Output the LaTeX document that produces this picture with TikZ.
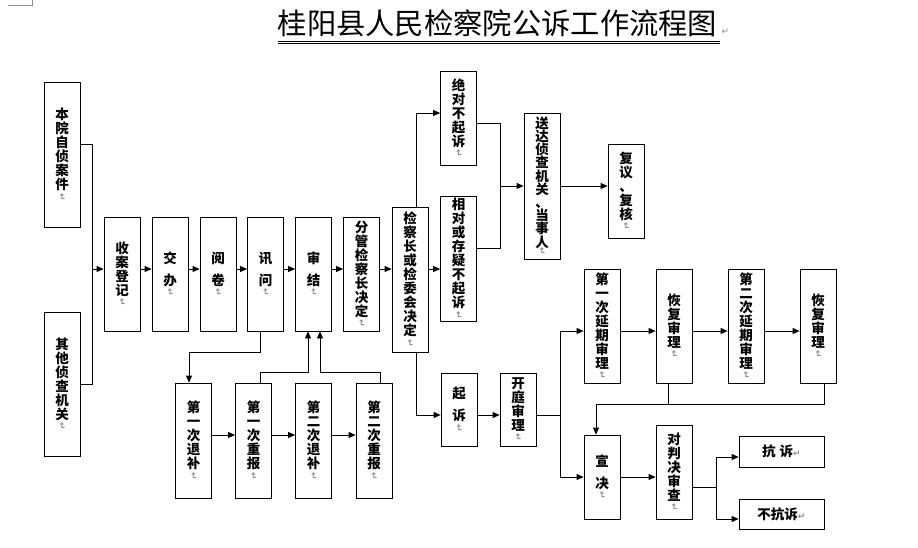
\documentclass[tikz,border=0pt]{standalone}
\usepackage{fontspec}
\usepackage{graphicx}
\usepackage{tikz}
\usetikzlibrary{arrows.meta,calc}
\newfontfamily\cjk{Noto Sans CJK SC}
\newfontfamily\symfont{DejaVu Sans}
\definecolor{MarkGray}{HTML}{8c8c8c}
\newcommand\pmark{{\symfont\fontsize{9}{9}\selectfont\textcolor{MarkGray}{\rotatebox[origin=c]{-90}{↵}}}}
\newcommand\hmark{{\symfont\fontsize{9}{9}\selectfont\textcolor{MarkGray}{↵}}}

\begin{document}
\begin{tikzpicture}[x=1pt,y=-1pt,
    stage/.style={draw,line width=0.8pt,inner sep=0pt,minimum width=36pt,align=center,
      font=\cjk\bfseries\fontsize{13.5}{14}\selectfont},
    link/.style={line width=0.8pt},
    flow/.style={link,-{Triangle[length=7pt,width=6pt]}}]
    \useasboundingbox (0,0) rectangle (918,548);
    \draw[MarkGray,line width=0.6pt] (8,5) -- (32,5) -- (32,0);

    % title
    \node[font=\cjk\fontsize{29.3}{30}\selectfont,inner sep=0pt,anchor=base] (title) at (497.5,35) {桂阳县人民检察院公诉工作流程图};
    \node[inner sep=0pt,anchor=base west] (tmark) at ([xshift=4pt]title.base east) {\hmark};
    \draw[link] ([yshift=-6pt]title.base west) -- ([xshift=3pt,yshift=-6pt]title.base east);
    \draw[link] ([yshift=-8.5pt]title.base west) -- ([xshift=3pt,yshift=-8.5pt]title.base east);

    % sources and main row
    \node[stage,minimum height=145pt] (benyuan) at (62,154.5) {本\\院\\自\\侦\\案\\件\\[-4pt]\pmark};
    \node[stage,minimum height=144pt] (qita) at (62,384) {其\\他\\侦\\查\\机\\关\\[-4pt]\pmark};
    \node[stage,minimum height=114pt] (shouan) at (122,274) {收\\案\\登\\记\\[-4pt]\pmark};
    \node[stage,minimum height=114pt] (jiaoban) at (170,274) {交\\[8pt]办\\[-4pt]\pmark};
    \node[stage,minimum height=114pt] (yuejuan) at (218,274) {阅\\[8pt]卷\\[-4pt]\pmark};
    \node[stage,minimum height=114pt] (xunwen) at (265.5,274) {讯\\[8pt]问\\[-4pt]\pmark};
    \node[stage,minimum height=114pt] (shenjie) at (313.5,274) {审\\[8pt]结\\[-4pt]\pmark};
    \node[stage,minimum height=114pt] (fenguan) at (361.5,274) {分\\管\\检\\察\\长\\决\\定\\[-4pt]\pmark};
    \node[stage,minimum height=145pt] (jcz) at (410,279.5) {检\\察\\长\\或\\检\\委\\会\\决\\定\\[-4pt]\pmark};

    % no prosecution
    \node[stage,minimum height=94pt] (juedui) at (458.5,118) {绝\\对\\不\\起\\诉\\[-4pt]\pmark};
    \node[stage,minimum height=125pt] (xiangdui) at (458.5,258.5) {相\\对\\或\\存\\疑\\不\\起\\诉\\[-4pt]\pmark};
    \node[stage,minimum height=146pt,font=\cjk\bfseries\fontsize{13.5}{13.2}\selectfont] (songda) at (542,186) {送\\达\\侦\\查\\机\\关\\、\\当\\事\\人\\[-6pt]\pmark};
    \node[stage,minimum height=94pt] (fuyi) at (626,191) {复\\议\\、\\复\\核\\[-4pt]\pmark};

    % supplementary investigation
    \node[stage,minimum height=115pt] (tuibu1) at (193.5,440.5) {第\\一\\次\\退\\补\\[-4pt]\pmark};
    \node[stage,minimum height=115pt] (chongbao1) at (253.5,440.5) {第\\一\\次\\重\\报\\[-4pt]\pmark};
    \node[stage,minimum height=115pt] (tuibu2) at (313.5,440.5) {第\\二\\次\\退\\补\\[-4pt]\pmark};
    \node[stage,minimum height=115pt] (chongbao2) at (374,440.5) {第\\二\\次\\重\\报\\[-4pt]\pmark};

    % prosecution and trial
    \node[stage,minimum height=73pt] (qisu) at (459,409.5) {起\\[8pt]诉\\[-4pt]\pmark};
    \node[stage,minimum height=73pt] (kaiting) at (518,409.5) {开\\庭\\审\\理\\[-4pt]\pmark};
    \node[stage,minimum height=114pt] (yanqi1) at (602,326) {第\\一\\次\\延\\期\\审\\理\\[-4pt]\pmark};
    \node[stage,minimum height=114pt] (huifu1) at (674,326) {恢\\复\\审\\理\\[-4pt]\pmark};
    \node[stage,minimum height=114pt] (yanqi2) at (746,326) {第\\二\\次\\延\\期\\审\\理\\[-4pt]\pmark};
    \node[stage,minimum height=114pt] (huifu2) at (818,326) {恢\\复\\审\\理\\[-4pt]\pmark};
    \node[stage,minimum height=84pt] (xuanjue) at (602,477) {宣\\[8pt]决\\[-4pt]\pmark};
    \node[stage,minimum height=94pt] (duipan) at (674,472) {对\\判\\决\\审\\查\\[-4pt]\pmark};
    \node[stage,minimum width=85pt,minimum height=31pt] (kangsu) at (781.5,451.5) {抗\hspace{4pt}诉\hmark};
    \node[stage,minimum width=85pt,minimum height=30pt] (bukang) at (781.5,514) {不抗诉\hmark};

    % connectors
    \coordinate (join) at (92,269);
    \draw[link] ([yshift=10.5pt]benyuan.east) -| (join);
    \draw[link] (qita.east) -| (join);
    \draw[flow] (join) -- ([yshift=5pt]shouan.west);
    \draw[flow] ([yshift=5pt]shouan.east) -- ([yshift=5pt]jiaoban.west);
    \draw[flow] ([yshift=5pt]jiaoban.east) -- ([yshift=5pt]yuejuan.west);
    \draw[flow] ([yshift=5pt]yuejuan.east) -- ([yshift=5pt]xunwen.west);
    \draw[flow] ([yshift=5pt]xunwen.east) -- ([yshift=5pt]shenjie.west);
    \draw[flow] ([yshift=5pt]shenjie.east) -- ([yshift=5pt]fenguan.west);
    \draw[flow] ([yshift=5pt]fenguan.east) -- ([yshift=10.5pt]jcz.west);

    \draw[flow] ([xshift=-5.5pt]xunwen.south) -- ++(0,21) -| ([xshift=-4.5pt]tuibu1.north);
    \draw[flow] ([yshift=5.5pt]tuibu1.east) -- ([yshift=5.5pt]chongbao1.west);
    \draw[flow] ([yshift=5.5pt]chongbao1.east) -- ([yshift=5.5pt]tuibu2.west);
    \draw[flow] ([yshift=5.5pt]tuibu2.east) -- ([yshift=5.5pt]chongbao2.west);
    \draw[flow] ([xshift=6.5pt]chongbao1.north) -- ++(0,-10) -| ([xshift=-5.5pt]shenjie.south);
    \draw[flow] ([xshift=6pt]chongbao2.north) -- ++(0,-10) -| ([xshift=6.5pt]shenjie.south);

    \draw[flow] ([xshift=6pt]jcz.north) |- ([yshift=5pt]juedui.west);
    \draw[flow] ([yshift=10.5pt]jcz.east) -- ([yshift=-10.5pt]xiangdui.west);
    \draw[flow] ([xshift=6pt]jcz.south) |- ([yshift=-5.5pt]qisu.west);

    \coordinate (merge) at (500,186);
    \draw[link] ([yshift=-5pt]juedui.east) -| (merge);
    \draw[link] ([yshift=10.5pt]xiangdui.east) -| (merge);
    \draw[flow] (merge) -- (songda.west);
    \draw[flow] (songda.east) -- ([yshift=5pt]fuyi.west);

    \draw[flow] ([yshift=-5.5pt]qisu.east) -- ([yshift=-5.5pt]kaiting.west);
    \coordinate (split) at (560,415);
    \draw[link] ([yshift=-5.5pt]kaiting.east) -- (split);
    \draw[flow] (split) |- ([yshift=-5pt]yanqi1.west);
    \draw[flow] (split) |- (xuanjue.west);
    \draw[flow] ([yshift=-5pt]yanqi1.east) -- ([yshift=-5pt]huifu1.west);
    \draw[flow] ([yshift=-5pt]huifu1.east) -- ([yshift=-5pt]yanqi2.west);
    \draw[flow] ([yshift=-5pt]yanqi2.east) -- ([yshift=-5pt]huifu2.west);

    \coordinate (back) at (596,404);
    \draw[link] ([xshift=-6pt]huifu1.south) -- ++(0,21);
    \draw[link] ([xshift=6pt]huifu2.south) |- (back);
    \draw[flow] (back) -- ([xshift=-6pt]xuanjue.north);
    \draw[flow] (xuanjue.east) -- ([yshift=-5pt]duipan.west);

    \coordinate (fork) at (716,487);
    \draw[link] ([yshift=-15pt]duipan.east) -- (fork);
    \draw[flow] (fork) |- ([yshift=-5.5pt]kangsu.west);
    \draw[flow] (fork) |- ([yshift=-5pt]bukang.west);
\end{tikzpicture}
\end{document}
